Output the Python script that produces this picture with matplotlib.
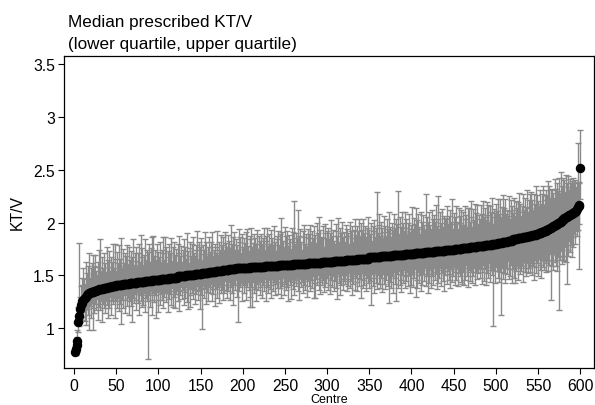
import numpy as np
import matplotlib
matplotlib.use('Agg')
import matplotlib.pyplot as plt

# sorted centre medians, stored as (value, number of centres with that value)
med_values = [0.78, 0.80, 0.84, 0.88, 1.06, 1.12, 1.18, 1.22, 1.24, 1.26,
              1.27, 1.28, 1.29, 1.30, 1.31, 1.32, 1.33, 1.34, 1.35, 1.36, 1.37, 1.38, 1.39, 1.40,
              1.41, 1.42, 1.43, 1.44, 1.45, 1.46, 1.47, 1.48, 1.49, 1.50,
              1.51, 1.52, 1.53, 1.54, 1.55, 1.56, 1.57, 1.58, 1.59, 1.60, 1.61, 1.62,
              1.63, 1.64, 1.65, 1.66, 1.67, 1.68, 1.69, 1.70, 1.71, 1.72, 1.73, 1.74,
              1.75, 1.76, 1.77, 1.78, 1.79, 1.80, 1.81, 1.82, 1.83, 1.84, 1.85, 1.86, 1.87, 1.88, 1.89,
              1.90, 1.91, 1.92, 1.93, 1.94, 1.95, 1.96, 1.97, 1.98, 1.99, 2.00, 2.01, 2.02, 2.03,
              2.04, 2.05, 2.06, 2.07, 2.08, 2.09, 2.10, 2.11, 2.13, 2.15, 2.16, 2.17, 2.52]
med_counts = [1, 1, 1, 1, 1, 1, 1, 1, 1, 1,
              1, 1, 1, 1, 1, 2, 2, 4, 3, 3, 5, 5, 5, 5,
              8, 8, 9, 9, 9, 10, 10, 10, 10, 10,
              9, 8, 8, 8, 8, 8, 17, 17, 17, 17, 17, 17,
              14, 14, 14, 14, 14, 14, 14, 12, 12, 12, 12, 11,
              9, 9, 9, 9, 9, 6, 6, 6, 6, 6, 6, 6, 5, 5, 3,
              3, 3, 3, 2, 2, 2, 2, 2, 2, 2, 2, 2, 2, 1,
              2, 2, 2, 2, 2, 2, 2, 1, 1, 1, 1, 1, 1]

# median - lower quartile, in hundredths, centre 1..600
lower_gap = [
    [3, 5, 6, 8, 10, 10, 12, 14, 9, 18, 16, 11, 22, 27, 13, 9, 19, 35, 12, 24],
    [10, 36, 15, 21, 12, 18, 8, 28, 13, 17, 20, 11, 31, 14, 9, 19, 24, 12, 16, 29],
    [12, 20, 9, 26, 14, 17, 11, 30, 13, 15, 22, 12, 25, 10, 18, 37, 14, 23, 11, 28],
    [15, 10, 21, 13, 29, 17, 9, 22, 37, 14, 19, 11, 26, 16, 10, 20, 31, 12, 18, 24],
    [13, 22, 11, 30, 16, 12, 19, 74, 14, 25, 10, 18, 33, 13, 21, 15, 36, 12, 31, 19],
    [11, 24, 15, 20, 9, 28, 17, 13, 22, 14, 32, 12, 20, 16, 26, 10, 28, 18, 13, 29],
    [16, 12, 23, 14, 33, 18, 10, 21, 13, 27, 15, 20, 11, 25, 32, 13, 19, 30, 12, 17],
    [22, 13, 28, 15, 19, 11, 24, 16, 33, 13, 20, 53, 12, 23, 15, 29, 10, 18, 26, 14],
    [20, 11, 27, 16, 21, 13, 32, 17, 12, 25, 15, 30, 13, 21, 18, 28, 14, 22, 10, 19],
    [26, 14, 20, 12, 29, 17, 23, 13, 34, 15, 20, 11, 27, 51, 14, 22, 18, 13, 31, 16],
    [13, 24, 15, 30, 18, 13, 21, 27, 38, 19, 38, 14, 25, 12, 21, 32, 16, 22, 13, 27],
    [19, 14, 29, 17, 23, 12, 33, 15, 20, 26, 13, 22, 18, 30, 12, 24, 15, 28, 17, 21],
    [15, 27, 13, 22, 31, 16, 20, 12, 29, 18, 24, 14, 21, 34, 15, 19, 32, 13, 23, 17],
    [30, 15, 21, 13, 26, 18, 34, 14, 22, 17, 28, 13, 20, 25, 14, 31, 17, 22, 12, 27],
    [16, 24, 13, 33, 19, 33, 15, 21, 12, 26, 18, 30, 14, 22, 17, 29, 13, 24, 20, 15],
    [27, 13, 22, 31, 17, 24, 14, 29, 19, 15, 26, 36, 13, 21, 33, 17, 23, 14, 28, 19],
    [22, 15, 30, 18, 25, 13, 27, 20, 34, 16, 23, 14, 29, 17, 21, 31, 15, 26, 19, 37],
    [14, 28, 20, 25, 16, 31, 18, 23, 14, 29, 22, 45, 16, 27, 19, 34, 15, 24, 30, 17],
    [25, 15, 29, 20, 34, 17, 26, 14, 31, 22, 18, 28, 44, 16, 24, 30, 19, 36, 16, 27],
    [21, 43, 18, 31, 15, 28, 23, 35, 19, 26, 14, 32, 21, 25, 17, 30, 20, 37, 16, 29],
    [19, 31, 22, 15, 41, 25, 33, 18, 28, 21, 36, 16, 30, 20, 26, 15, 32, 23, 39, 21],
    [29, 17, 34, 23, 19, 31, 15, 27, 22, 36, 18, 30, 25, 16, 33, 21, 28, 38, 19, 24],
    [17, 32, 20, 28, 23, 36, 18, 30, 25, 16, 34, 22, 29, 19, 35, 23, 26, 17, 31, 34],
    [23, 35, 19, 30, 16, 27, 37, 21, 32, 24, 18, 34, 28, 20, 36, 24, 17, 31, 26, 22],
    [30, 21, 36, 25, 18, 33, 23, 38, 27, 21, 31, 17, 35, 24, 29, 20, 78, 26, 37, 22],
    [26, 33, 20, 37, 28, 68, 24, 35, 21, 30, 39, 25, 31, 19, 36, 27, 34, 23, 40, 28],
    [23, 36, 41, 30, 25, 39, 28, 21, 34, 31, 26, 42, 23, 33, 29, 37, 24, 35, 30, 27],
    [34, 25, 38, 29, 42, 23, 36, 31, 27, 40, 24, 35, 30, 43, 26, 33, 37, 28, 39, 31],
    [29, 40, 34, 25, 68, 37, 31, 42, 27, 35, 39, 30, 45, 33, 83, 36, 28, 41, 34, 38],
    [40, 27, 42, 63, 32, 38, 24, 35, 29, 41, 23, 32, 21, 30, 19, 26, 22, 60, 18, 30],
]

# upper quartile - median, in hundredths, centre 1..600
upper_gap = [
    [4, 6, 8, 10, 14, 69, 12, 18, 24, 15, 30, 19, 13, 33, 21, 16, 27, 38, 15, 23],
    [28, 35, 16, 24, 34, 19, 14, 27, 22, 37, 47, 17, 30, 20, 12, 33, 24, 15, 39, 26],
    [19, 34, 15, 28, 23, 40, 17, 40, 26, 13, 31, 21, 38, 18, 25, 44, 16, 33, 20, 29],
    [14, 26, 37, 19, 35, 22, 12, 30, 24, 41, 17, 28, 21, 34, 15, 27, 36, 19, 44, 23],
    [32, 16, 25, 39, 20, 29, 13, 27, 35, 18, 31, 41, 15, 41, 22, 28, 19, 34, 14, 26],
    [21, 36, 16, 27, 24, 39, 18, 39, 30, 15, 26, 33, 19, 23, 37, 16, 29, 13, 34, 21],
    [27, 15, 31, 22, 38, 19, 29, 14, 25, 35, 20, 28, 16, 40, 23, 12, 32, 26, 18, 30],
    [36, 21, 17, 28, 23, 41, 15, 31, 26, 19, 34, 13, 27, 22, 39, 18, 30, 16, 25, 33],
    [19, 29, 24, 38, 15, 21, 27, 17, 38, 23, 15, 28, 20, 34, 25, 12, 31, 19, 36, 26],
    [22, 16, 33, 27, 20, 42, 24, 15, 30, 35, 18, 27, 22, 17, 37, 25, 29, 14, 32, 20],
    [28, 18, 24, 34, 37, 21, 16, 30, 26, 37, 19, 23, 31, 13, 27, 22, 35, 17, 29, 25],
    [17, 31, 22, 27, 37, 15, 28, 24, 36, 19, 30, 21, 16, 34, 26, 20, 38, 23, 14, 28],
    [25, 33, 19, 29, 44, 17, 31, 23, 16, 36, 27, 21, 32, 18, 28, 24, 15, 35, 22, 30],
    [59, 19, 29, 24, 16, 51, 26, 33, 21, 13, 31, 25, 37, 19, 28, 17, 32, 23, 27, 36],
    [20, 30, 23, 16, 35, 26, 19, 38, 28, 43, 17, 31, 24, 22, 34, 14, 27, 36, 22, 29],
    [32, 21, 27, 18, 39, 24, 30, 19, 16, 35, 28, 23, 40, 18, 31, 26, 17, 37, 22, 27],
    [18, 33, 22, 29, 25, 15, 36, 27, 20, 32, 17, 28, 38, 23, 19, 31, 26, 37, 21, 34],
    [27, 16, 37, 24, 31, 20, 29, 18, 39, 26, 22, 33, 16, 30, 25, 35, 19, 28, 62, 23],
    [31, 41, 20, 33, 27, 17, 38, 23, 29, 19, 35, 26, 42, 22, 28, 18, 32, 24, 39, 21],
    [26, 34, 30, 61, 20, 36, 27, 17, 41, 31, 23, 40, 25, 33, 19, 30, 38, 21, 28, 24],
    [45, 24, 34, 28, 43, 20, 31, 37, 25, 18, 39, 30, 23, 36, 27, 21, 55, 33, 20, 29],
    [38, 26, 22, 40, 31, 19, 35, 28, 44, 24, 30, 52, 21, 37, 27, 40, 23, 33, 18, 30],
    [29, 42, 25, 32, 21, 38, 27, 48, 20, 35, 30, 24, 41, 26, 19, 39, 31, 25, 37, 22],
    [34, 22, 40, 27, 31, 20, 38, 38, 24, 43, 28, 19, 36, 25, 41, 22, 32, 39, 20, 29],
    [25, 39, 30, 21, 42, 27, 35, 23, 40, 28, 38, 22, 37, 31, 26, 43, 19, 33, 29, 38],
    [31, 23, 41, 27, 41, 24, 34, 44, 21, 32, 40, 26, 30, 23, 42, 28, 20, 38, 33, 25],
    [39, 28, 22, 36, 30, 34, 43, 25, 33, 21, 31, 41, 26, 37, 24, 29, 45, 23, 34, 40],
    [27, 42, 33, 24, 39, 30, 47, 22, 37, 31, 26, 41, 28, 23, 36, 44, 25, 34, 29, 38],
    [32, 45, 41, 28, 37, 23, 35, 31, 26, 43, 34, 21, 38, 30, 42, 27, 47, 33, 24, 39],
    [36, 25, 40, 32, 28, 38, 24, 34, 29, 31, 22, 33, 27, 30, 23, 25, 60, 22, 20, 36],
]

yticks = [1, 1.5, 2, 2.5, 3, 3.5]
ytick_labels = ['1', '1.5', '2', '2.5', '3', '3.5']
xticks = list(range(0, 601, 50))

plt.rcParams['font.family'] = ['Liberation Sans', 'DejaVu Sans']

median = np.repeat(med_values, med_counts)
centre = np.arange(1, median.size + 1)
lo = np.array(lower_gap).ravel() / 100.
hi = np.array(upper_gap).ravel() / 100.

W, H = 595, 406
fig = plt.figure(figsize=(W / 100, H / 100), dpi=100)
ax = fig.add_axes([64.3 / W, 1 - 369 / H, (594 - 64.3) / W, (369 - 57) / H])

ax.errorbar(centre, median, yerr=[lo, hi], fmt='none', ecolor='#8a8a8a',
            elinewidth=1.0, capsize=2.5, capthick=1.0, zorder=1)
ax.plot(centre, median, 'o', color='black', ms=5.8, mec='black', zorder=2)

ax.set_xlim(-11.5, 616.3)
ax.set_ylim(0.624, 3.576)
ax.set_xticks(xticks)
ax.set_yticks(yticks)
ax.set_yticklabels(ytick_labels)
ax.tick_params(direction='out', length=4.3, width=0.8, labelsize=11.3, colors='black')
ax.tick_params(axis='y', pad=2.4)
ax.tick_params(axis='x', pad=3.0)
for s in ax.spines.values():
    s.set_linewidth(0.9)

fig.text(68 / W, 1 - 27.3 / H, 'Median prescribed KT/V', fontsize=12.3, va='baseline')
fig.text(68 / W, 1 - 49.3 / H, '(lower quartile, upper quartile)', fontsize=12.3, va='baseline')
fig.text(17 / W, 1 - 213 / H, 'KT/V', fontsize=11.3, rotation=90, ha='center', va='center')
fig.text(329 / W, 1 - 405.8 / H, 'Centre', fontsize=9, ha='center', va='bottom')

fig.savefig('out.png', dpi=100)
